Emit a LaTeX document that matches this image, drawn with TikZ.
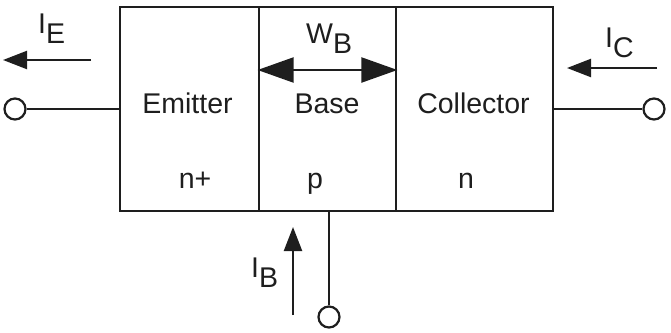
\documentclass[tikz,border=0pt]{standalone}
\usepackage{fontspec}
\setmainfont{Liberation Sans}
\usetikzlibrary{arrows.meta}
\definecolor{ink}{HTML}{1E1E1E}
\tikzset{
  region/.style={draw=ink, line width=2.8pt, rectangle, inner sep=0pt, minimum height=204pt},
  term/.style={draw=ink, line width=2.2pt, circle, fill=white, minimum size=21pt, inner sep=0pt},
  lead/.style={draw=ink, line width=2.2pt},
  current/.style={draw=ink, line width=2.2pt, -{Triangle[length=24pt,width=18pt]}},
  width/.style={draw=ink, line width=2.2pt, {Triangle[length=36pt,width=25pt]}-{Triangle[length=36pt,width=25pt]}},
  lbl/.style={inner sep=0pt, text=ink, font=\fontsize{28.5}{34}\selectfont},
}
\newcommand{\lowered}[1]{\raisebox{-10.5pt}{#1}}
\begin{document}
\begin{tikzpicture}[x=1pt,y=-1pt]
  \useasboundingbox (0,0) rectangle (671,332);

  % the three regions of the transistor
  \node[region, minimum width=139pt] (em) at (189.5,109) {};
  \node[region, minimum width=137pt] (ba) at (327.5,109) {};
  \node[region, minimum width=157pt] (co) at (474.5,109) {};

  % region names and doping
  \node[lbl, anchor=base] (emtxt) at (187.5,113) {Emitter};
  \node[lbl, anchor=base] (batxt) at (327,113) {Base};
  \node[lbl, anchor=base] (cotxt) at (473.5,113) {Collector};
  \node[lbl, anchor=base] (emdop) at (195,188) {n+};
  \node[lbl, anchor=base] (badop) at (315,188) {p};
  \node[lbl, anchor=base] (codop) at (466,188) {n};

  % terminals and leads
  \node[term] (tE) at (15,109) {};
  \node[term] (tC) at (654,109) {};
  \node[term] (tB) at (329,317) {};
  \draw[lead] (tE.east) -- (tE -| em.west);
  \draw[lead] (tC.west) -- (tC -| co.east);
  \draw[lead] (tB.north) -- (tB |- ba.south);

  % base width
  \coordinate (wl) at (ba.west |- 0,70);
  \coordinate (wr) at (ba.east |- 0,70);
  \draw[width] (wl) -- (wr);
  \node[lbl, anchor=base west] (wB) at (306,43) {W\lowered{B}};

  % terminal currents
  \coordinate (iEs) at (91,60);
  \coordinate (iEe) at (3,60);
  \draw[current] (iEs) -- (iEe);
  \node[lbl, anchor=base west] (iE) at (38,33) {I\lowered{E}};

  \coordinate (iCs) at (657,68);
  \coordinate (iCe) at (567,68);
  \draw[current] (iCs) -- (iCe);
  \node[lbl, anchor=base west] (iC) at (605,47) {I\lowered{C}};

  \coordinate (iBs) at (293,315);
  \coordinate (iBe) at (293,227);
  \draw[current] (iBs) -- (iBe);
  \node[lbl, anchor=base west] (iB) at (251,277) {I\lowered{B}};
\end{tikzpicture}
\end{document}
